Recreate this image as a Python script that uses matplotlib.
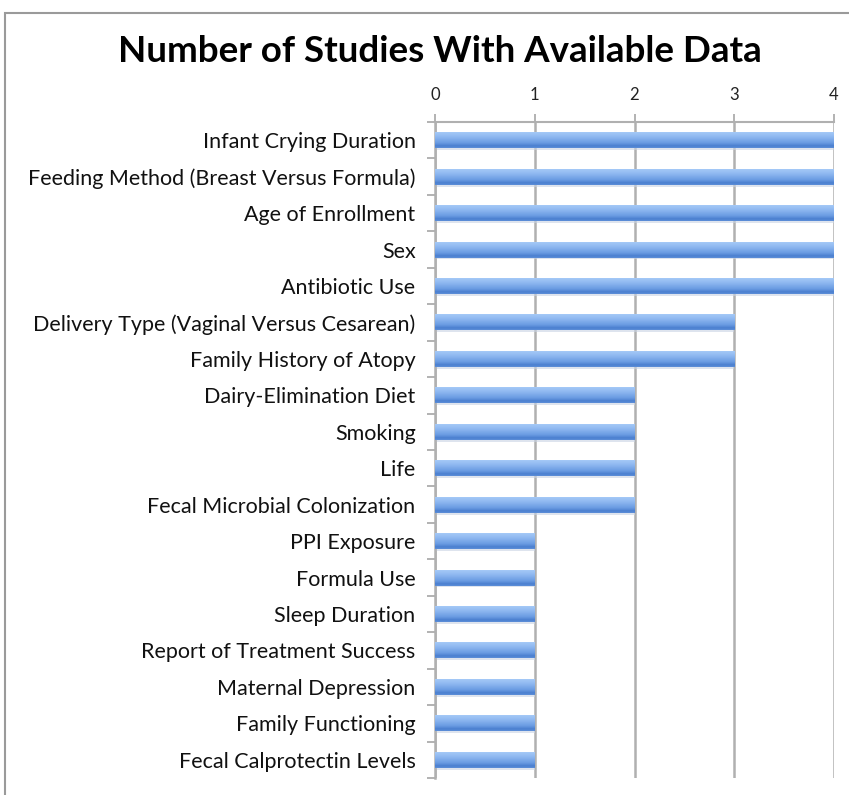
import matplotlib
matplotlib.use("Agg")
import matplotlib.pyplot as plt
import numpy as np
from matplotlib.colors import LinearSegmentedColormap
from matplotlib.patches import Rectangle

categories = [
    "Infant Crying Duration",
    "Feeding Method (Breast Versus Formula)",
    "Age of Enrollment",
    "Sex",
    "Antibiotic Use",
    "Delivery Type (Vaginal Versus Cesarean)",
    "Family History of Atopy",
    "Dairy-Elimination Diet",
    "Smoking",
    "Life",
    "Fecal Microbial Colonization",
    "PPI Exposure",
    "Formula Use",
    "Sleep Duration",
    "Report of Treatment Success",
    "Maternal Depression",
    "Family Functioning",
    "Fecal Calprotectin Levels",
]
values = [4, 4, 4, 4, 4, 3, 3, 2, 2, 2, 2, 1, 1, 1, 1, 1, 1, 1]
xticks = [0, 1, 2, 3, 4]
title = "Number of Studies With Available Data"

plt.rcParams['font.family'] = ['Lato', 'DejaVu Sans']

fig = plt.figure(figsize=(8.49, 7.95), dpi=100)
ax = fig.add_axes([435/849, 1-778/795, (834-435)/849, (778-122)/795])

n = len(categories)
ys = np.arange(n)
ax.set_xlim(0, 4)
ax.set_ylim(n - 0.5, -0.5)

grad_cmap = LinearSegmentedColormap.from_list(
    "bar", [(0.0, "#a9ccf8"), (0.35, "#8db7f0"), (0.7, "#6a9be2"),
            (0.88, "#4a7fcf"), (1.0, "#5e8fd8")])
grad = np.linspace(0, 1, 64).reshape(-1, 1)
h = 0.44
for y, v in zip(ys, values):
    bars = ax.barh(y, v, height=h, color="none", edgecolor="none", zorder=3)
    im = ax.imshow(grad, cmap=grad_cmap, aspect="auto",
                   extent=[0, v, y + h/2, y - h/2], zorder=3,
                   interpolation="bilinear")
    im.set_clip_path(bars[0])
    ax.add_patch(Rectangle((0, y + h/2), v, 0.05, color="#c8d3e3",
                           alpha=0.6, zorder=2, lw=0))

ax.set_xticks(xticks)
ax.set_xticklabels([str(t) for t in xticks])
ax.xaxis.tick_top()
ax.tick_params(axis="x", direction="out", length=6, width=1.2, color="#a6a6a6",
               labelsize=12, pad=8, labelcolor="#222222")
ax.set_yticks(ys)
ax.set_yticklabels(categories)
ax.tick_params(axis="y", length=0, labelsize=15.5, pad=14, labelcolor="#111111")
ax.set_yticks(np.arange(n + 1) - 0.5, minor=True)
ax.tick_params(axis="y", which="minor", length=6, width=1.2, color="#a6a6a6",
               direction="out")

ax.grid(axis="x", color="#b0b0b0", lw=1.8, zorder=1)
ax.set_axisbelow(True)
for s in ["right", "bottom"]:
    ax.spines[s].set_visible(False)
ax.spines["top"].set_color("#b0b0b0")
ax.spines["top"].set_linewidth(1.5)
ax.spines["left"].set_color("#b0b0b0")
ax.spines["left"].set_linewidth(1.8)

fig.text(440/849, 1-51/795, title, ha="center", va="center",
         fontsize=26.5, fontweight="bold", color="black")

fig.patches.append(Rectangle((5/849, -0.1), 1.2, 1-13/795+0.1,
                             transform=fig.transFigure, fill=False,
                             edgecolor="#9a9a9a", lw=1.5))

fig.savefig("out.png", dpi=100)
